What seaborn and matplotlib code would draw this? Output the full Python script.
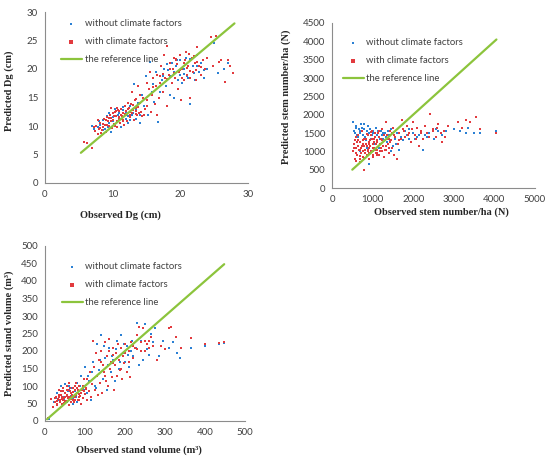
import pandas as pd
import numpy as np
import matplotlib
matplotlib.use("Agg")
import matplotlib.pyplot as plt
import seaborn as sns

sns.set_style("white")
plt.rcParams["font.family"] = ["Lato", "DejaVu Sans"]

# ---- panel 1: Dg (cm) ----
dg_red_obs = [5.8, 6.2, 7.0, 7.2, 7.4, 7.6, 7.8, 8.0, 8.2, 8.3, 8.5, 8.7, 8.8, 9.0, 9.1, 9.3, 9.5, 9.6,
              9.8, 9.9, 10.0, 10.2, 10.3, 10.5, 10.6, 10.8, 11.0, 11.1, 11.3, 11.5, 11.6, 11.8, 12.0, 12.1,
              12.3, 12.5, 12.6, 12.8, 13.0, 13.1, 13.3, 13.5, 13.6, 13.8, 14.0, 14.2, 14.4, 14.5, 14.8, 15.0,
              15.1, 15.3, 15.5, 15.6, 15.8, 16.0, 16.2, 16.4, 16.5, 16.6, 16.8, 17.0, 17.2, 17.4, 17.6, 17.8,
              18.0, 18.1, 18.3, 18.5, 18.7, 18.9, 19.0, 19.2, 19.4, 19.6, 19.8, 20.0, 20.1, 20.3, 20.5, 20.7,
              20.9, 21.0, 21.2, 21.4, 21.5, 21.7, 21.9, 22.1, 22.3, 22.5, 22.7, 23.0, 23.3, 23.7, 24.0, 24.5,
              24.8, 25.2, 25.7, 26.0, 26.6, 27.0, 27.4, 27.8,
              9.2, 9.7, 10.4, 10.9, 11.4, 11.9, 12.4, 12.9, 13.4, 10.1, 11.7, 12.7, 8.4, 7.9, 10.6, 11.2,
              13.9, 14.6,
              8.1, 8.6, 9.0, 9.4, 9.8, 10.2, 10.6, 11.0, 11.4, 11.8, 12.2, 12.6, 13.0, 13.4, 13.8, 9.5,
              10.5, 11.5, 12.5, 13.5, 17.5, 18.0, 18.5, 19.0, 19.5, 20.0, 20.5, 21.0, 21.5, 22.0, 22.5,
              23.0, 19.3, 20.3, 21.3, 22.3, 17.0, 16.0, 15.0, 14.0]
dg_red_pred = [7.2, 7.0, 6.2, 9.8, 9.2, 10.0, 11.0, 9.5, 10.5, 8.8, 9.8, 11.2, 10.2, 9.0, 11.5, 10.8, 10.0, 12.0,
               13.2, 9.6, 11.0, 10.3, 12.5, 11.8, 9.8, 12.8, 11.2, 10.5, 13.0, 12.2, 11.0, 13.5, 12.0, 10.8,
               14.0, 12.5, 11.5, 16.0, 12.8, 11.0, 14.5, 13.2, 12.0, 17.0, 14.0, 12.5, 11.8, 15.0, 13.0, 17.5,
               14.5, 16.5, 19.5, 12.5, 15.5, 18.5, 13.8, 17.0, 19.0, 12.0, 15.0, 17.5, 20.5, 16.0, 22.5, 18.5,
               24.0, 13.5, 19.0, 21.0, 17.5, 20.0, 22.0, 18.5, 21.5, 16.5, 19.5, 22.5, 14.5, 20.0, 18.0, 21.5,
               23.0, 19.0, 20.5, 18.5, 15.0, 22.0, 19.5, 21.0, 18.0, 23.8, 20.5, 19.0, 21.5, 20.0, 22.0, 25.7,
               20.5, 25.8, 21.2, 21.5, 17.8, 21.5, 20.6, 19.3,
               10.2, 10.8, 10.0, 11.6, 11.8, 12.6, 13.2, 12.2, 12.6, 12.2, 10.2, 13.8, 9.3, 8.6, 13.2, 12.0,
               12.3, 12.0,
               9.6, 10.4, 11.0, 10.0, 11.4, 11.8, 10.9, 12.6, 11.3, 12.1, 12.9, 12.0, 13.6, 12.1, 13.4, 11.4,
               12.6, 10.9, 11.9, 14.8, 19.2, 18.2, 20.0, 19.3, 20.8, 19.8, 21.0, 20.2, 19.6, 22.2, 21.2,
               20.4, 21.8, 18.5, 22.6, 19.8, 18.8, 16.8, 13.5, 15.5]
dg_blue_obs = [7.0, 7.3, 7.8, 8.2, 8.6, 8.9, 9.2, 9.5, 9.8, 10.1, 10.4, 10.7, 11.0, 11.3, 11.6, 11.9, 12.2,
               12.5, 12.8, 13.1, 13.4, 13.7, 14.0, 14.3, 14.6, 14.9, 15.2, 15.5, 15.8, 16.1, 16.4, 16.7, 17.0,
               17.3, 17.6, 17.9, 18.2, 18.5, 18.8, 19.1, 19.4, 19.7, 20.0, 20.3, 20.6, 20.9, 21.2, 21.5, 21.8,
               22.1, 22.4, 22.7, 23.0, 23.5, 24.0, 25.0, 25.6, 26.4, 27.0,
               8.0, 8.5, 9.0, 9.5, 10.0, 10.5, 11.0, 11.5, 12.0, 12.5, 13.0, 13.5, 14.0, 9.3, 10.8, 12.3,
               17.5, 18.0, 18.5, 19.0, 19.5, 20.0, 20.5, 21.0, 21.5, 22.0, 22.5, 23.5, 16.0, 15.0]
dg_blue_pred = [10.0, 9.5, 9.9, 10.2, 11.0, 9.5, 11.8, 10.5, 9.0, 11.5, 13.0, 10.8, 12.2, 9.8, 12.8, 11.3, 10.5,
                13.5, 12.0, 17.3, 11.2, 14.0, 10.5, 15.5, 13.5, 18.8, 12.0, 21.2, 16.0, 14.2, 19.5, 10.7, 16.0,
                18.0, 20.0, 17.0, 19.8, 15.5, 21.0, 15.0, 20.5, 18.0, 21.5, 17.5, 19.2, 22.0, 18.5, 13.9, 20.5,
                18.0, 22.5, 19.5, 21.0, 18.5, 20.0, 24.6, 19.3, 20.0, 21.0,
                10.8, 9.3, 10.2, 12.3, 10.9, 11.7, 11.0, 13.3, 12.5, 11.0, 12.3, 13.0, 12.0, 9.8, 12.0, 11.8,
                18.8, 20.8, 18.7, 19.5, 21.6, 19.0, 20.0, 18.8, 21.8, 19.3, 20.5, 19.8, 17.3, 13.5]
dg_ref = [5.3, 28.0]

# ---- panel 2: stem number/ha (N) ----
n_red_obs = [520, 540, 560, 580, 600, 620, 640, 660, 680, 700, 720, 740, 760, 780, 800, 820, 840, 860, 880, 900,
             920, 940, 960, 980, 1000, 1020, 1040, 1060, 1080, 1100, 1120, 1140, 1160, 1180, 1200, 1220, 1240,
             1260, 1280, 1300, 1320, 1340, 1360, 1380, 1400, 1420, 1450, 1480, 1500, 1530, 1560, 1600, 1620,
             1650, 1700, 1720, 1750, 1800, 1850, 1900, 1950, 2000, 2050, 2100, 2150, 2200, 2250, 2300, 2350,
             2420, 2480, 2550, 2600, 2700, 2750, 2850, 3100, 3200, 3300, 3400, 3550, 3650, 4050,
             580, 650, 700, 760, 820, 880, 940, 1000, 1060, 1120, 1180, 620, 700, 760, 900, 980, 550, 860, 1030,
             560, 600, 640, 680, 720, 760, 800, 840, 880, 920, 960, 1000, 1040, 1080, 1120, 1160, 1200, 1240,
             1280, 1320, 1360, 1400, 1440, 1480, 1520, 600, 700, 800, 900, 1000, 1100, 1200, 1300, 1400,
             650, 750, 850, 950, 1050, 1150,
             1650, 1780, 1880, 1980, 2080, 2180, 2280, 2380, 2480, 2580, 2680, 2780]
n_red_pred = [1000, 1200, 800, 1400, 1100, 900, 1300, 1050, 700, 1250, 950, 1150, 850, 1350, 500, 1050, 1200, 900,
              1450, 1100, 800, 1300, 1000, 1550, 1200, 850, 1100, 1400, 950, 1250, 1050, 1500, 900, 1200, 1350,
              1000, 1600, 1150, 850, 1300, 1800, 1050, 1450, 1200, 950, 1550, 1300, 1100, 1650, 900, 1400, 800,
              1200, 1500, 1350, 1850, 1600, 1400, 1700, 1500, 1250, 1800, 1450, 1650, 1150, 1550, 1350, 1700,
              1500, 2030, 1600, 1400, 1750, 1250, 1550, 1700, 1800, 1650, 1850, 1800, 1950, 1600, 1500,
              950, 1150, 1050, 1200, 950, 1000, 1150, 900, 1050, 1300, 1000, 1250, 800, 1000, 1250, 1350, 1100,
              1150, 1250,
              1300, 950, 1150, 1250, 1100, 1300, 1150, 1350, 1050, 1200, 1450, 1100, 1350, 1200, 900, 1400,
              1100, 1300, 1450, 1150, 1350, 1100, 1250, 1500, 1450, 750, 880, 820, 950, 1000, 950, 1100, 1050,
              1350, 1450, 1550, 1480, 1520, 1500, 1560,
              1300, 1550, 1450, 1600, 1350, 1500, 1700, 1400, 1550, 1650, 1500, 1400]
n_blue_obs = [520, 560, 600, 640, 680, 720, 760, 800, 840, 880, 900, 920, 960, 1000, 1040, 1080, 1120, 1160,
              1200, 1250, 1300, 1350, 1400, 1450, 1500, 1550, 1600, 1650, 1700, 1750, 1800, 1850, 1900, 2000,
              2100, 2200, 2250, 2300, 2400, 2500, 2600, 2700, 2800, 3000, 3150, 3300, 3350, 3500, 3650, 4050,
              700, 850, 1100, 1450, 1580,
              540, 580, 620, 660, 700, 740, 780, 820, 860, 940, 980, 1020, 1060, 1140, 1180, 1220, 1260, 1320,
              1380, 1420, 1900, 2050, 2150, 2350, 2550]
n_blue_pred = [1800, 1500, 1650, 1400, 1550, 1750, 1450, 1600, 1300, 1700, 650, 1500, 1350, 1550, 1200, 1650,
               1450, 1100, 1550, 1350, 1500, 1250, 1450, 1600, 1150, 1350, 1500, 1050, 1400, 1300, 1550, 1450,
               1350, 1500, 1400, 1550, 1050, 1450, 1500, 1350, 1550, 1450, 1550, 1600, 1550, 1500, 1650, 1500,
               1500, 1550, 1000, 1100, 900, 1000, 1200,
               1550, 1700, 1450, 1600, 1500, 1650, 1750, 1400, 1550, 1600, 1450, 1500, 1400, 1550, 1350, 1450,
               1500, 1400, 1550, 1300, 1600, 1350, 1450, 1400, 1600]
n_ref = [500, 4050]

# ---- panel 3: stand volume (m3) ----
v_red_obs = [8, 15, 20, 25, 28, 30, 32, 35, 38, 40, 42, 45, 48, 50, 52, 55, 58, 60, 62, 65, 68, 70, 72, 75, 78,
             80, 82, 85, 88, 90, 92, 95, 98, 100, 103, 106, 110, 112, 115, 118, 120, 122, 125, 128, 130, 132,
             135, 138, 140, 142, 145, 148, 150, 152, 155, 158, 160, 162, 165, 168, 170, 172, 175, 178, 180, 182,
             185, 188, 190, 192, 195, 198, 200, 205, 210, 212, 215, 220, 225, 230, 235, 240, 245, 250, 255, 260,
             265, 270, 280, 290, 300, 310, 315, 328, 340, 365, 400, 435, 448,
             30, 35, 42, 50, 55, 60, 65, 70, 48, 58, 75, 85, 40, 62, 95, 105, 70, 80,
             25, 30, 34, 38, 42, 46, 50, 54, 58, 62, 66, 70, 74, 78, 82, 86, 90, 94, 98, 102, 45, 55, 65, 75,
             85, 60, 140, 150, 160, 170, 180, 190, 200, 210, 220, 230, 240, 250, 260, 170]
v_red_pred = [8, 62, 40, 55, 70, 45, 62, 90, 55, 75, 48, 95, 65, 80, 58, 100, 70, 45, 85, 62, 75, 95, 55, 68, 110,
              80, 60, 100, 72, 50, 88, 65, 120, 78, 95, 60, 85, 140, 70, 105, 230, 155, 90, 195, 130, 75, 175,
              110, 200, 80, 160, 140, 225, 115, 185, 100, 235, 150, 170, 125, 210, 90, 160, 195, 130, 220, 175,
              145, 210, 120, 185, 165, 220, 140, 200, 125, 225, 180, 210, 245, 270, 200, 265, 230, 220, 210, 240,
              215, 175, 215, 205, 265, 270, 240, 210, 238, 220, 222, 226,
              58, 70, 62, 68, 75, 62, 80, 70, 52, 88, 90, 60, 85, 70, 95, 120, 60, 95,
              65, 50, 75, 60, 70, 85, 58, 72, 65, 95, 68, 82, 60, 75, 88, 70, 80, 100, 85, 92, 60, 88, 55, 100,
              78, 108, 170, 130, 200, 165, 180, 150, 195, 170, 215, 205, 225, 200, 230, 190]
v_blue_obs = [10, 22, 30, 35, 40, 45, 50, 55, 60, 65, 70, 75, 80, 85, 90, 95, 100, 105, 110, 115, 120, 125, 130,
              135, 140, 145, 150, 155, 160, 165, 170, 175, 180, 185, 190, 195, 200, 205, 210, 215, 220, 230, 235,
              240, 245, 250, 255, 260, 265, 270, 275, 285, 295, 310, 320, 330, 338, 365, 400, 435, 448,
              28, 38, 48, 58, 68, 78, 88, 98, 108, 118, 128, 138, 148, 158, 168, 178, 188, 198, 208, 218, 228,
              60, 70, 80, 90]
v_blue_pred = [5, 55, 80, 60, 100, 70, 105, 55, 90, 72, 50, 85, 110, 70, 130, 95, 155, 80, 115, 60, 170, 100, 220,
               145, 245, 120, 180, 90, 210, 140, 175, 115, 230, 150, 245, 195, 170, 215, 155, 200, 185, 280, 160,
               230, 175, 278, 205, 190, 250, 225, 265, 185, 230, 210, 225, 195, 180, 210, 213, 220, 222,
               65, 75, 60, 85, 95, 70, 100, 90, 130, 140, 95, 175, 215, 160, 185, 205, 170, 220, 190, 230, 210,
               100, 65, 55, 80]
v_ref = [5, 448]

BLUE = "#2b80d4"
RED = "#e23a3e"
GREEN = "#8cc43c"
AXIS_GRAY = "#8c8c8c"

panels = [
    dict(rect=[45 / 550, 1 - 183 / 458, 203 / 550, 171 / 458],
         red=(dg_red_obs, dg_red_pred), blue=(dg_blue_obs, dg_blue_pred), ref=dg_ref,
         lim=(0, 30), xticks=range(0, 31, 10), yticks=range(0, 31, 5),
         xlabel="Observed Dg (cm)", ylabel="Predicted Dg (cm)",
         xl=(0.37, -0.158), yl=(-0.153, 0.54), leg=(0.06, 0.98)),
    dict(rect=[332 / 550, 1 - 188 / 458, 203 / 550, 165 / 458],
         red=(n_red_obs, n_red_pred), blue=(n_blue_obs, n_blue_pred), ref=n_ref,
         lim=(0, 5000), xticks=range(0, 5001, 1000), yticks=range(0, 4501, 500),
         xlabel="Observed stem number/ha (N)", ylabel="Predicted stem number/ha (N)",
         xl=(0.54, -0.115), yl=(-0.202, 0.55), leg=(0.035, 0.93)),
    dict(rect=[45 / 550, 1 - 421 / 458, 200 / 550, 175 / 458],
         red=(v_red_obs, v_red_pred), blue=(v_blue_obs, v_blue_pred), ref=v_ref,
         lim=(0, 500), xticks=range(0, 501, 100), yticks=range(0, 501, 50),
         xlabel="Observed stand volume (m³)", ylabel="Predicted stand volume (m³)",
         xl=(0.47, -0.137), yl=(-0.155, 0.50), leg=(0.065, 0.93)),
]

fig = plt.figure(figsize=(5.5, 4.58), dpi=100)

for p in panels:
    ax = fig.add_axes(p["rect"])
    sns.scatterplot(x=p["blue"][0], y=p["blue"][1], ax=ax, color=BLUE, marker="s", s=3,
                    linewidth=0, label="without climate factors")
    sns.scatterplot(x=p["red"][0], y=p["red"][1], ax=ax, color=RED, marker="s", s=4.5,
                    linewidth=0, label="with climate factors")
    sns.lineplot(x=p["ref"], y=p["ref"], ax=ax, color=GREEN, linewidth=1.6,
                 label="the reference line")

    ymax = p["yticks"][-1]
    ax.set_xlim(p["lim"])
    ax.set_ylim(0, ymax)
    ax.set_xticks(list(p["xticks"]))
    ax.set_yticks(list(p["yticks"]))
    ax.tick_params(axis="both", labelsize=7, colors=AXIS_GRAY, labelcolor="#404040",
                   direction="out", length=3, width=0.8, pad=2)
    for side in ["top", "right"]:
        ax.spines[side].set_visible(False)
    for side in ["left", "bottom"]:
        ax.spines[side].set_color(AXIS_GRAY)
        ax.spines[side].set_linewidth(0.8)

    ax.set_xlabel(p["xlabel"], family="Liberation Serif", weight="bold", fontsize=7.5)
    ax.set_ylabel(p["ylabel"], family="Liberation Serif", weight="bold", fontsize=7.5)
    ax.xaxis.set_label_coords(*p["xl"])
    ax.yaxis.set_label_coords(*p["yl"])

    leg = ax.legend(loc="upper left", bbox_to_anchor=p["leg"], frameon=False, fontsize=6.8,
                    labelspacing=0.95, handlelength=2.2, handletextpad=0.3, markerscale=1.1,
                    borderaxespad=0)
    for t in leg.get_texts():
        t.set_color("#404040")

fig.savefig("out.png", dpi=100)
